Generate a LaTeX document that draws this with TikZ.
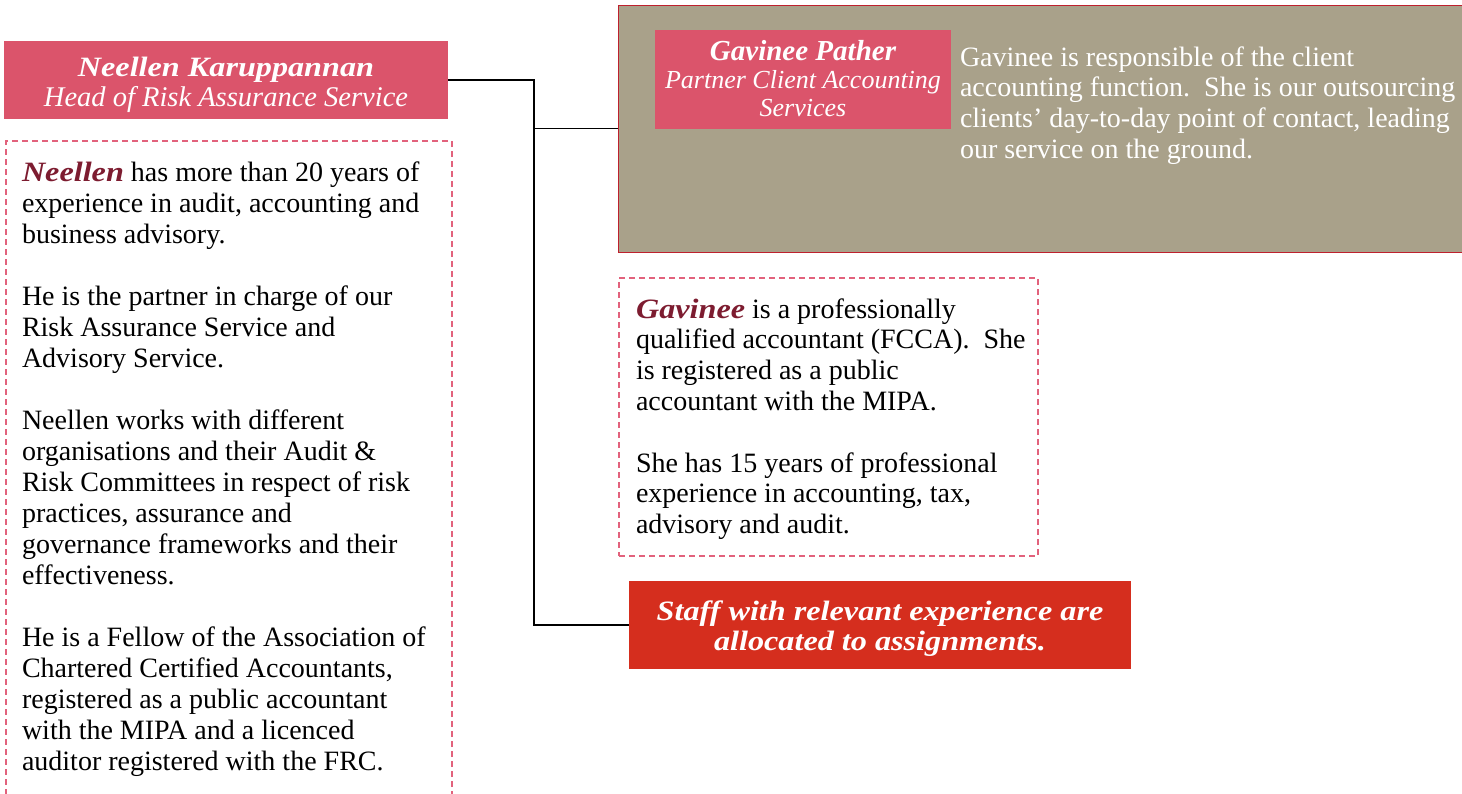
\documentclass[tikz,border=0pt]{standalone}
\usepackage{fontspec}
\setmainfont{Liberation Serif}
% slightly widened cut for the bold italic names
\newfontfamily\widefont[FakeStretch=1.15]{Liberation Serif}

\definecolor{rosepink}{RGB}{219,84,107}
\definecolor{dashpink}{RGB}{226,98,124}
\definecolor{taupe}{RGB}{169,161,138}
\definecolor{taupeedge}{RGB}{190,32,45}
\definecolor{alertred}{RGB}{213,46,30}
\definecolor{namered}{RGB}{125,28,48}

\tikzset{
  box/.style={rectangle, inner sep=0pt, outer sep=0pt, anchor=north west},
  pinkbox/.style={box, fill=rosepink},
  notebox/.style={box, draw=dashpink, line width=1.2pt, dash pattern=on 6pt off 4pt},
  link/.style={draw=black, line width=1.3pt},
  txt/.style={inner sep=0pt, outer sep=0pt},
  headtxt/.style={txt, anchor=base, text=white},
}

\newcommand{\nameword}[1]{\leavevmode{\widefont\bfseries\itshape\color{namered}#1}}

\begin{document}
\begin{tikzpicture}[x=1pt, y=-1pt]
\useasboundingbox (0,0) rectangle (1462,793);
\clip (0,0) rectangle (1462,793);

% ---- boxes ----
\node[pinkbox, minimum width=444pt, minimum height=78pt] (neellen) at (4,41) {};
\node[notebox, minimum width=446pt, minimum height=700pt] (neellenNote) at (6,141) {};
\node[box, fill=taupe, draw=taupeedge, line width=1pt, minimum width=848pt, minimum height=247pt] (gavinee) at (618,5) {};
\node[pinkbox, minimum width=296pt, minimum height=99pt] (gavTitle) at (655,30) {};
\node[notebox, minimum width=419pt, minimum height=278pt] (gavNote) at (619,278) {};
\node[box, fill=alertred, minimum width=502pt, minimum height=88pt] (staff) at (629,581) {};

% ---- connectors ----
\coordinate (junc) at (534,128.5);
\draw[link] (neellen.east) -| (junc) -- (gavinee.west);
\draw[link] (junc) |- (staff.west);

% ---- titles ----
\node[headtxt] (nName) at (226,76) {\widefont\fontsize{28}{30}\selectfont\bfseries\itshape Neellen Karuppannan};
\node[headtxt] (nRole) at (226,106) {\fontsize{28.5}{30}\selectfont\itshape Head of Risk Assurance Service};

\node[headtxt] (gName) at (803,60) {\fontsize{29}{30}\selectfont\bfseries\itshape Gavinee Pather};
\node[headtxt] (gRole1) at (803,88) {\fontsize{26}{28}\selectfont\itshape Partner Client Accounting};
\node[headtxt] (gRole2) at (803,116) {\fontsize{26}{28}\selectfont\itshape Services};

\node[headtxt] (staff1) at (880,620.5) {\widefont\fontsize{28}{30}\selectfont\bfseries\itshape Staff with relevant experience are};
\node[headtxt] (staff2) at (880,650) {\widefont\fontsize{28}{30}\selectfont\bfseries\itshape allocated to assignments.};

% ---- body texts ----
\node[txt, anchor=base west, text=white] (gavText) at (960,66) {\parbox[t]{520pt}{\fontsize{28}{30.7}\selectfont
Gavinee is responsible of the client\\
accounting function.\ \ She is our outsourcing\\
clients’ day-to-day point of contact, leading\\
our service on the ground.}};

\node[txt, anchor=base west] (neellenText) at (22,181) {\parbox[t]{425pt}{\fontsize{28}{31}\selectfont
\nameword{Neellen} has more than 20 years of\\
experience in audit, accounting and\\
business advisory.\\[31pt]
He is the partner in charge of our\\
Risk Assurance Service and\\
Advisory Service.\\[31pt]
Neellen works with different\\
organisations and their Audit \&\\
Risk Committees in respect of risk\\
practices, assurance and\\
governance frameworks and their\\
effectiveness.\\[31pt]
He is a Fellow of the Association of\\
Chartered Certified Accountants,\\
registered as a public accountant\\
with the MIPA and a licenced\\
auditor registered with the FRC.}};

\node[txt, anchor=base west] (gavNoteText) at (636,318) {\parbox[t]{395pt}{\fontsize{28}{30.8}\selectfont
\nameword{Gavinee} is a professionally\\
qualified accountant (FCCA).\ \ She\\
is registered as a public\\
accountant with the MIPA.\\[30.8pt]
She has 15 years of professional\\
experience in accounting, tax,\\
advisory and audit.}};
\end{tikzpicture}
\end{document}
